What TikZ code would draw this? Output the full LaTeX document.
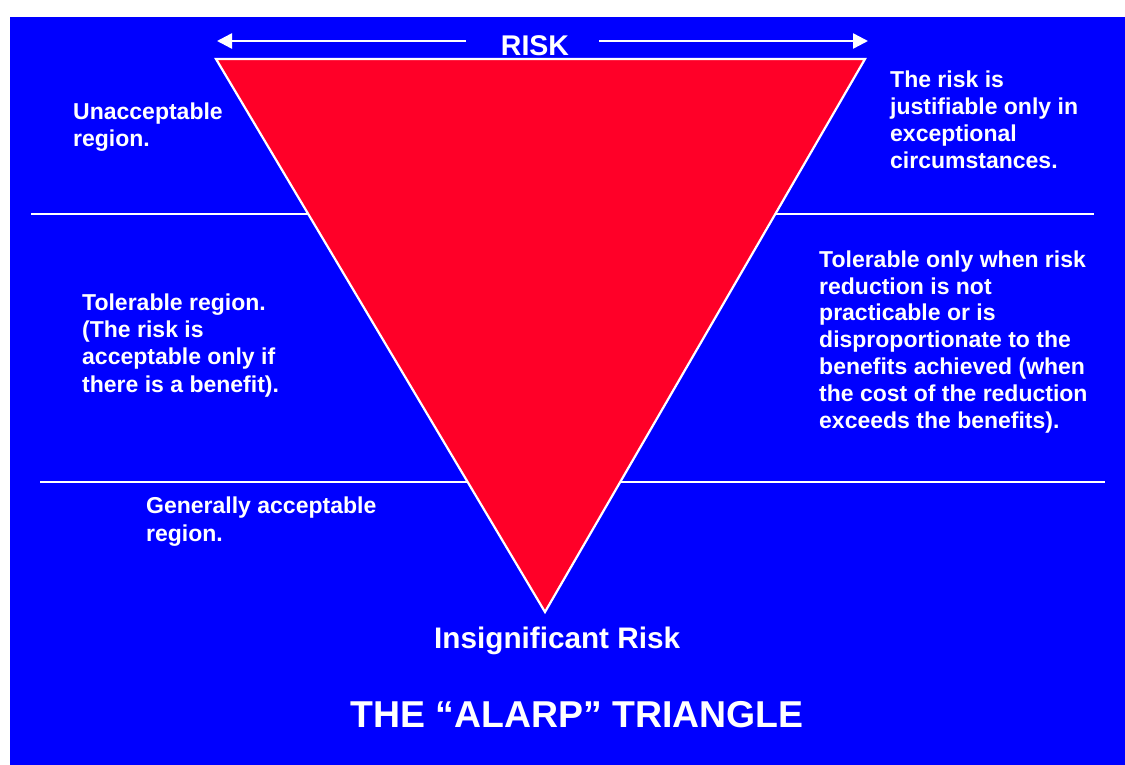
\documentclass[tikz,border=0pt]{standalone}
\usepackage{fontspec}
\setmainfont{Liberation Sans}
\usetikzlibrary{arrows.meta}
\definecolor{bgblue}{RGB}{0,0,255}
\definecolor{trired}{RGB}{255,0,40}
\tikzset{
  bodytext/.style={anchor=base west, inner sep=0pt, align=left, text=white,
    font=\bfseries\fontsize{23}{27.3}\selectfont},
  divider/.style={draw=white, line width=2pt},
  riskarrow/.style={draw=white, line width=2.5pt, -{Triangle[length=15pt,width=15pt]}}
}
\begin{document}
\begin{tikzpicture}[x=1pt,y=-1pt]
\useasboundingbox (0,0) rectangle (1125,765);
\fill[white] (0,0) rectangle (1125,765);
\fill[bgblue] (9.5,17) rectangle (1125,765);
% dividers
\coordinate (d1l) at (31,214);
\coordinate (d1r) at (1094,214);
\coordinate (d2l) at (40,482);
\coordinate (d2r) at (1105,482);
\draw[divider] (d1l) -- (d1r);
\draw[divider] (d2l) -- (d2r);
% triangle
\coordinate (tl) at (216,59);
\coordinate (tr) at (865,59);
\coordinate (tb) at (545,612);
\filldraw[fill=trired, draw=white, line width=2.2pt] (tl) -- (tr) -- (tb) -- cycle;
% RISK arrows
\node[anchor=base, inner sep=0pt, text=white, font=\bfseries\fontsize{28.5}{30}\selectfont] (risk) at (535,56) {RISK};
\coordinate (al0) at (466,41);
\coordinate (al1) at (217,41);
\coordinate (ar0) at (599,41);
\coordinate (ar1) at (868,41);
\draw[riskarrow] (al0) -- (al1);
\draw[riskarrow] (ar0) -- (ar1);
% texts (anchor = baseline of the last line)
\node[bodytext, font=\bfseries\fontsize{23}{28}\selectfont] (unacc) at (73,147) {Unacceptable\\region.};
\node[bodytext, font=\bfseries\fontsize{23}{27}\selectfont] (justif) at (890,168) {The risk is\\justifiable only in\\exceptional\\circumstances.};
\node[bodytext] (tolreg) at (82,392) {Tolerable region.\\(The risk is\\acceptable only if\\there is a benefit).};
\node[bodytext, font=\bfseries\fontsize{23}{26.8}\selectfont] (tolonly) at (819,428) {Tolerable only when risk\\reduction is not\\practicable or is\\disproportionate to the\\benefits achieved (when\\the cost of the reduction\\exceeds the benefits).};
\node[bodytext, font=\bfseries\fontsize{23}{28}\selectfont] (genacc) at (146,541) {Generally acceptable\\region.};
\node[anchor=base west, inner sep=0pt, text=white, font=\bfseries\fontsize{29.7}{32}\selectfont] (insig) at (434,648) {Insignificant Risk};
\node[anchor=base, inner sep=0pt, text=white, font=\bfseries\fontsize{37.4}{40}\selectfont] (title) at (577,727) {THE “ALARP” TRIANGLE};
\end{tikzpicture}
\end{document}
